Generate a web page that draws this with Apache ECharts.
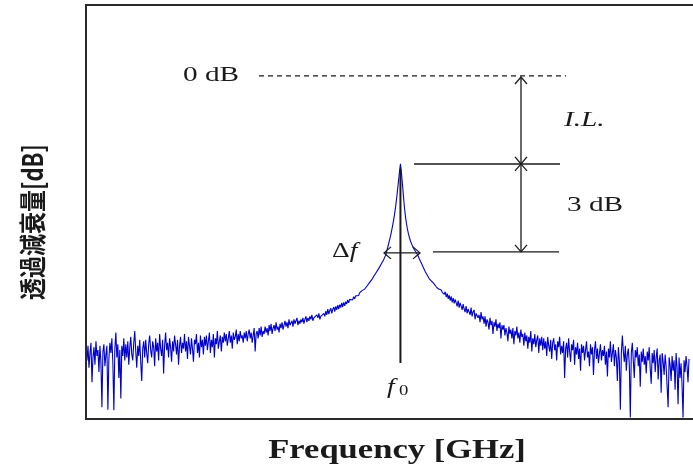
<!DOCTYPE html>
<html><head><meta charset="utf-8">
<script src="https://cdn.jsdelivr.net/npm/echarts@6/dist/echarts.min.js"></script>
<style>html,body{margin:0;padding:0;background:#fff}#c{width:693px;height:472px}</style>
</head><body><div id="c"></div>
<script>
// ---- data: transmission attenuation [dB] at uniformly spaced frequency samples ----
const xTitle = 'Frequency [GHz]';
const yTitle = '透過減衰量[dB]';
const attenuation = [
  -9.30,-9.70,-9.20,-9.95,-9.45,-9.10,-10.45,-9.60,-9.25,-9.85,-9.05,-9.55,-9.35,-10.10,-9.20,-9.75,-11.30,-9.40,-9.15,-9.90,
  -9.50,-9.20,-11.38,-9.65,-9.10,-9.45,-8.95,-9.80,-11.40,-9.30,-8.75,-9.60,-9.15,-10.30,-9.35,-11.00,-9.20,-9.55,-8.95,-9.70,
  -9.15,-9.60,-9.05,-9.85,-9.25,-8.90,-9.50,-9.70,-9.10,-8.70,-9.40,-9.95,-9.20,-9.55,-9.00,-9.75,-10.40,-9.30,-9.05,-9.60,
  -9.00,-9.45,-9.80,-9.15,-8.85,-9.35,-9.60,-9.05,-9.25,-9.90,-8.95,-9.40,-9.10,-9.70,-8.80,-9.30,-9.55,-9.00,-10.15,-9.20,
  -8.75,-9.35,-9.10,-9.60,-8.95,-9.25,-9.75,-9.05,-9.40,-8.85,-9.15,-9.50,-9.00,-9.85,-9.20,-8.90,-9.45,-9.10,-9.30,-8.80,
  -9.40,-9.05,-9.65,-8.90,-9.20,-9.50,-8.95,-9.30,-9.75,-9.00,-9.15,-8.80,-9.45,-9.10,-9.60,-8.85,-9.25,-9.00,-9.50,-8.90,
  -9.20,-8.85,-9.35,-9.05,-8.75,-9.45,-9.00,-9.25,-8.80,-9.60,-8.95,-9.15,-8.70,-9.30,-9.05,-8.85,-9.40,-8.90,-9.10,-8.75,
  -9.05,-8.80,-9.20,-8.95,-8.70,-9.10,-8.85,-9.30,-8.75,-9.00,-8.90,-8.65,-9.15,-8.80,-9.05,-8.70,-8.95,-8.85,-9.10,-8.75,
  -8.95,-8.70,-9.05,-8.80,-8.65,-8.95,-8.75,-9.10,-8.85,-8.60,-9.40,-8.80,-8.70,-8.95,-8.60,-8.85,-8.55,-8.90,-8.70,-8.80,
  -8.55,-8.75,-8.60,-8.85,-8.50,-8.70,-8.45,-8.80,-8.60,-8.50,-8.70,-8.40,-8.65,-8.55,-8.75,-8.45,-8.60,-8.40,-8.65,-8.50,
  -8.35,-8.55,-8.40,-8.60,-8.30,-8.50,-8.45,-8.35,-8.55,-8.30,-8.45,-8.40,-8.25,-8.50,-8.35,-8.45,-8.30,-8.40,-8.25,-8.45,
  -8.30,-8.20,-8.40,-8.25,-8.35,-8.20,-8.30,-8.15,-8.35,-8.25,-8.20,-8.30,-8.15,-8.25,-8.10,-8.30,-8.20,-8.15,-8.25,-8.10,
  -8.20,-8.02,-8.15,-7.95,-8.12,-8.00,-7.92,-8.10,-7.96,-7.88,-8.04,-7.86,-7.98,-7.82,-7.95,-7.80,-7.90,-7.74,-7.88,-7.72,
  -7.84,-7.70,-7.78,-7.64,-7.74,-7.62,-7.68,-7.57,-7.64,-7.53,-7.60,-7.50,-7.55,-7.44,-7.49,-7.40,-7.43,-7.33,-7.37,-7.28,
  -7.27,-7.21,-7.18,-7.12,-7.09,-7.03,-7.00,-6.94,-6.91,-6.84,-6.81,-6.74,-6.71,-6.63,-6.59,-6.52,-6.48,-6.40,-6.36,-6.28,
  -6.22,-6.12,-6.00,-5.87,-5.74,-5.60,-5.46,-5.30,-5.13,-4.94,-4.73,-4.50,-4.22,-3.92,-3.60,-3.28,-3.00,-3.30,-3.68,-4.10,
  -4.48,-4.78,-5.02,-5.22,-5.38,-5.51,-5.62,-5.71,-5.79,-5.87,-5.93,-5.98,-6.03,-6.09,-6.16,-6.24,-6.31,-6.38,-6.46,-6.53,
  -6.59,-6.68,-6.72,-6.80,-6.83,-6.92,-6.94,-6.99,-7.04,-7.06,-7.12,-7.12,-7.19,-7.20,-7.26,-7.24,-7.32,-7.30,-7.38,-7.35,
  -7.45,-7.36,-7.54,-7.42,-7.60,-7.48,-7.66,-7.52,-7.72,-7.58,-7.76,-7.62,-7.74,-7.86,-7.66,-7.90,-7.74,-7.85,-7.98,-7.78,
  -7.95,-8.05,-7.85,-8.10,-7.95,-8.00,-8.15,-7.90,-8.20,-8.05,-7.98,-8.30,-8.10,-8.05,-8.25,-8.15,-8.40,-8.05,-8.30,-8.20,
  -8.45,-8.20,-8.55,-8.30,-8.40,-8.65,-8.25,-8.50,-8.35,-8.80,-8.40,-8.55,-8.30,-8.70,-8.45,-8.60,-8.40,-8.95,-8.50,-8.65,
  -8.50,-8.85,-8.60,-8.75,-9.05,-8.55,-8.80,-8.65,-8.95,-8.60,-9.15,-8.70,-8.85,-8.55,-8.95,-8.75,-9.10,-8.65,-8.90,-8.80,
  -9.20,-8.75,-9.05,-8.85,-9.30,-8.90,-9.10,-8.70,-9.40,-8.95,-9.15,-8.80,-9.25,-9.00,-8.85,-9.45,-8.95,-9.20,-8.90,-9.35,
  -8.95,-9.30,-9.05,-9.55,-8.90,-9.20,-9.40,-9.00,-9.65,-9.10,-8.95,-9.35,-9.15,-9.70,-9.05,-9.25,-8.90,-9.50,-9.20,-9.45,
  -9.05,-10.30,-9.30,-9.10,-9.60,-8.95,-9.40,-9.75,-9.15,-9.35,-9.00,-9.85,-9.25,-9.50,-9.10,-9.65,-9.30,-10.05,-9.15,-9.45,
  -9.20,-9.70,-9.35,-9.05,-9.60,-9.40,-9.90,-9.15,-9.50,-9.25,-10.20,-9.35,-9.05,-9.65,-9.30,-9.80,-9.45,-9.15,-9.70,-9.35,
  -9.55,-9.20,-9.85,-9.40,-10.25,-9.30,-9.60,-9.05,-9.75,-9.45,-9.15,-9.90,-9.35,-9.60,-10.40,-9.25,-9.70,-11.38,-9.45,-8.85,
  -9.40,-9.75,-9.20,-10.05,-9.50,-9.30,-9.85,-11.65,-9.45,-9.10,-9.70,-10.30,-9.35,-9.60,-9.25,-9.90,-9.50,-10.60,-9.40,-9.75,
  -9.30,-9.85,-9.55,-10.15,-9.40,-9.70,-9.25,-9.95,-10.50,-9.45,-9.80,-9.35,-10.10,-9.60,-9.30,-10.35,-9.70,-9.50,-10.80,-9.45,
  -9.75,-10.20,-9.50,-9.90,-10.60,-11.30,-9.60,-9.85,-10.40,-9.55,-10.05,-9.70,-10.70,-9.45,-9.95,-11.20,-9.60,-10.30,-9.80,-10.55,
  -11.65,-9.70,-10.10,-9.55,-9.90,-10.45,-9.65
];
const refLevel = 0;      // 0 dB reference line
const halfPowerDrop = 3; // 3 dB bandwidth level below the peak

// ---- chart ----
const chart = echarts.init(document.getElementById('c'), null, {renderer: 'canvas'});
const points = attenuation.map((v, i) => [i, v]);
const peakValue = Math.max.apply(null, attenuation);
const peakIndex = attenuation.indexOf(peakValue);

chart.setOption({
  animation: false,
  backgroundColor: '#fff',
  grid: {left: 86, top: 5, width: 610, height: 414, show: false},
  xAxis: {type: 'value', min: 0, max: 610, axisLine: {show: false}, axisTick: {show: false}, axisLabel: {show: false}, splitLine: {show: false}},
  yAxis: {type: 'value', min: -11.7, max: 2.42, axisLine: {show: false}, axisTick: {show: false}, axisLabel: {show: false}, splitLine: {show: false}},
  series: [{
    type: 'line', data: points, showSymbol: false, sampling: null,
    lineStyle: {color: '#0000cc', width: 1.1}, z: 2
  }]
});

const px = (i, v) => chart.convertToPixel({gridIndex: 0}, [i, v]);
const [gxL, gyT] = px(0, 2.42);
const [gxR, gyB] = px(610, -11.7);
const xF0 = px(peakIndex, peakValue)[0];
const yRef = px(0, refLevel)[1];
const yPeak = px(0, peakValue)[1];
const yHalf = px(0, peakValue - halfPowerDrop)[1];

const ink = '#1a1a1a';
const line = (x1, y1, x2, y2, w, dash, col) => ({type: 'line', shape: {x1, y1, x2, y2}, style: {stroke: col || ink, lineWidth: w || 1.3, lineDash: dash || null}, z: 10});
const chev = (ax, ay, dir) => {
  const s = 6, l = 7;
  let pts;
  if (dir === 'up') pts = [[ax - s, ay + l], [ax, ay], [ax + s, ay + l]];
  else if (dir === 'down') pts = [[ax - s, ay - l], [ax, ay], [ax + s, ay - l]];
  else if (dir === 'left') pts = [[ax + l, ay - s], [ax, ay], [ax + l, ay + s]];
  else pts = [[ax - l, ay - s], [ax, ay], [ax - l, ay + s]];
  return {type: 'polyline', shape: {points: pts}, style: {stroke: ink, lineWidth: 1.3, fill: null}, z: 10};
};
const txt = (x, y, text, font, sx, extra) => ({
  type: 'text', x, y, scaleX: sx || 1, z: 11,
  style: Object.assign({text, font, fill: ink, textAlign: 'left', textVerticalAlign: 'middle', align: 'left', verticalAlign: 'middle'}, extra || {})
});

const serif = '"Liberation Serif", "Times New Roman", serif';
const xArrow = 521;
const yDelta = yHalf + 1;
const frame = '#2a2a2a';

chart.setOption({
  graphic: [
    // plot frame (left, top, bottom; right side lies beyond the picture)
    line(gxL, gyT, gxR, gyT, 2, null, frame),
    line(gxL, gyB, gxR, gyB, 2, null, frame),
    line(gxL, gyT - 1, gxL, gyB + 1, 2, null, frame),
    // 0 dB reference
    txt(183, yRef - 1, '0 dB', '22px ' + serif, 1.33),
    line(259, yRef, 566, yRef, 1.2, [5, 4]),
    // I.L. and 3 dB dimension arrows
    line(xArrow, yRef + 1, xArrow, yHalf),
    chev(xArrow, yRef + 1, 'up'),
    chev(xArrow, yPeak, 'down'),
    chev(xArrow, yPeak, 'up'),
    chev(xArrow, yHalf, 'down'),
    line(414, yPeak, 560, yPeak, 1.5),
    line(433, yHalf, 559, yHalf, 1.3),
    txt(564, 120, 'I.L.', 'italic 22px ' + serif, 1.33),
    txt(567, 205, '3 dB', '22px ' + serif, 1.33),
    // bandwidth
    line(384, yDelta, 420, yDelta, 1.3),
    chev(384, yDelta, 'left'),
    chev(420, yDelta, 'right'),
    txt(332, yDelta - 2, '{a|Δ}{b|f}', '22px ' + serif, 1.25, {rich: {a: {font: '22px ' + serif, fill: ink}, b: {font: 'italic 22px ' + serif, fill: ink}}}),
    // f0 marker
    line(xF0, yPeak + 5, xF0, 363, 2),
    txt(387, 387, 'f', 'italic 22px ' + serif, 1.25),
    txt(399, 391, '0', '15px ' + serif, 1.25),
    // axis titles
    txt(397, 451, xTitle, 'bold 27px ' + serif, 1.28, {textAlign: 'center', align: 'center'}),
    {type: 'text', x: 33, y: 222, rotation: Math.PI / 2, scaleY: 1.25, z: 11,
     style: {text: yTitle, font: 'bold 22px "Noto Sans CJK JP", sans-serif', fill: ink, textAlign: 'center', textVerticalAlign: 'middle', align: 'center', verticalAlign: 'middle'}}
  ]
});
</script>
</body></html>
